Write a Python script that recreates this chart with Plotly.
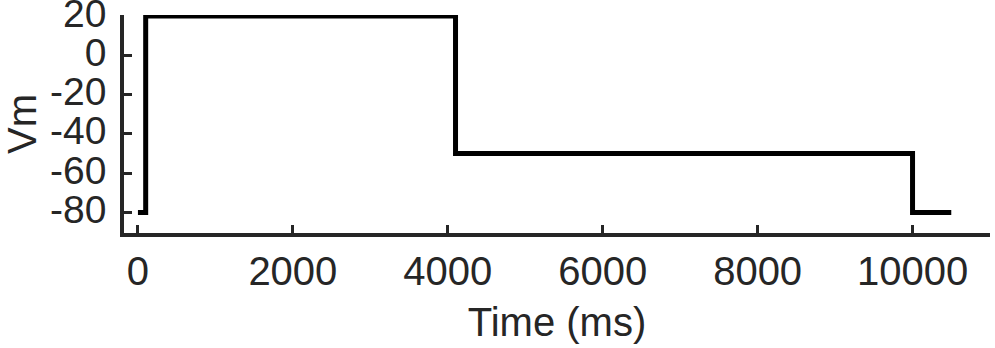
import plotly.graph_objects as go

# Voltage-clamp protocol (step levels)
time_ms = [0, 100, 100, 4100, 4100, 10000, 10000, 10500]
vm = [-80, -80, 20, 20, -50, -50, -80, -80]

x_ticks = [0, 2000, 4000, 6000, 8000, 10000]
x_tick_text = ["0", "2000", "4000", "6000", "8000", "10000"]
y_ticks = [20, 0, -20, -40, -60, -80]
y_tick_text = ["20", "0", "-20", "-40", "-60", "-80"]

font_family = "Liberation Sans, Arial, Helvetica, sans-serif"
axis_color = "#262626"

fig = go.Figure()
fig.add_trace(go.Scatter(
    x=time_ms, y=vm, mode="lines",
    line=dict(color="black", width=5),
    showlegend=False,
))

fig.update_layout(
    width=995, height=348,
    margin=dict(l=124, r=5, t=15, b=115),
    paper_bgcolor="white", plot_bgcolor="white",
    font=dict(family=font_family, size=40, color=axis_color),
)
fig.update_xaxes(
    range=[-180, 11000],
    tickvals=x_ticks, ticktext=x_tick_text,
    ticks="inside", ticklen=8, tickwidth=3, tickcolor=axis_color,
    showline=True, linewidth=3.5, linecolor=axis_color,
    showgrid=False, zeroline=False, automargin=False,
    ticklabeloverflow="allow",
    tickfont=dict(size=40),
    title=dict(text="Time (ms)", font=dict(size=40), standoff=17),
)
fig.update_yaxes(
    range=[-90.5, 20.5],
    tickvals=y_ticks, ticktext=y_tick_text,
    ticks="inside", ticklen=8, tickwidth=3, tickcolor=axis_color,
    showline=True, linewidth=3.5, linecolor=axis_color,
    showgrid=False, zeroline=False, automargin=False,
    ticklabeloverflow="allow", ticklabelstandoff=6, ticklabelshift=-3,
    tickfont=dict(size=39),
    title=dict(text="Vm", font=dict(size=40), standoff=11),
)

fig.write_html(
    "out.html",
    config={"displayModeBar": False},
    post_script="document.body.style.margin='0';",
)
